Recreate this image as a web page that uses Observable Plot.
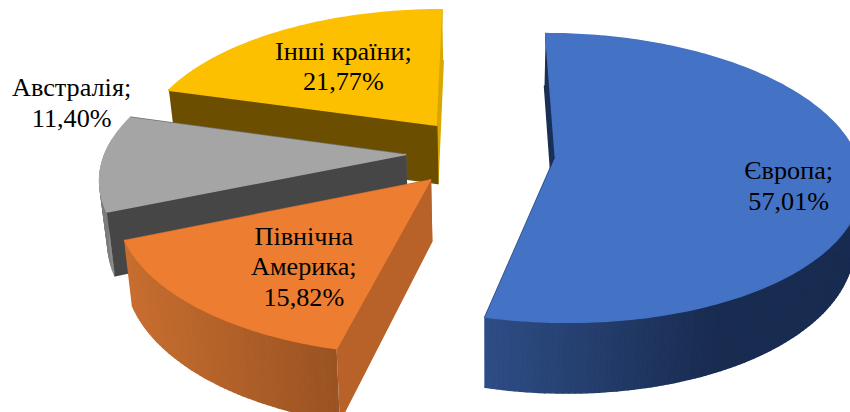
<!DOCTYPE html>
<html><head><meta charset="utf-8">
<style>html,body{margin:0;padding:0;background:#fff}</style>
<script src="https://cdn.jsdelivr.net/npm/d3@7"></script>
<script src="https://cdn.jsdelivr.net/npm/@observablehq/plot@0.6"></script>
</head><body><div id="chart"></div>
<script>
// Data (the shares add up to 106, the pie normalises them)
const categories = ["Європа", "Північна\nАмерика", "Австралія", "Інші країни"];
const shares = [57.01, 15.82, 11.40, 21.77];

// Colours per slice
const topColors = ["#4472c4", "#ed7d31", "#a5a5a5", "#fdc000"];
const wallFrom = ["#2e4d85", "#c86e30", "#7c7c7c", "#8c6b00"];
const wallTo = ["#182b50", "#9a5322", "#9a9a9a", "#8c6b00"];
const startFace = ["#1a2f55", "#b8622a", "#464646", "#6b4e00"];
const endFace = ["#2e4d85", "#c86e30", "#707070", "#d8a800"];

// Where each label sits, in slice polar terms: degrees clockwise from top, fraction of radius
const labelAngle = [104.5, 214.36, 288.5, 324];
const labelRadius = [0.77, 0.645, 1.255, 0.6];

// Camera used to project the tilted pie
const cam = {u0: 480, v0: 152, A: 300, B: 140, k: 0.147, explode: 0.25, H: 60, nadirX: 490, lean: 0.021, start: 0};

const rad = d => d * Math.PI / 180;
const project = (X, Y) => {
  const w = 1 - cam.k * Y;
  return {x: cam.u0 + cam.A * X / w, y: cam.v0 + cam.B * Y / w, w};
};
const lower = p => ({x: p.x + (cam.nadirX - p.x) * cam.lean, y: p.y + cam.H / p.w});

const arcs = d3.pie().sort(null)
  .startAngle(rad(cam.start)).endAngle(rad(cam.start) + 2 * Math.PI)(shares);

const polygons = [];
let id = 0;
const addPoly = (pts, fill) => { id++; for (const p of pts) polygons.push({id, x: p.x, y: p.y, fill}); };

const slices = arcs.map((a, i) => {
  const mid = (a.startAngle + a.endAngle) / 2;
  const ox = cam.explode * Math.sin(mid), oy = -cam.explode * Math.cos(mid);
  const at = (th, r = 1) => project(ox + r * Math.sin(th), oy - r * Math.cos(th));
  return {a, i, at};
});

// back to front
for (const i of [3, 2, 1, 0]) {
  const {a, at} = slices[i];
  const n = Math.ceil((a.endAngle - a.startAngle) / rad(1));
  const th = d3.range(n + 1).map(j => a.startAngle + (a.endAngle - a.startAngle) * j / n);
  const apex = at(0, 0), s = at(a.startAngle), e = at(a.endAngle);
  addPoly([e, apex, lower(apex), lower(e)], endFace[i]);
  const shade = d3.interpolateRgb(wallFrom[i], wallTo[i]);
  const rim = th.map(t => at(t));
  const front = d3.range(n).filter(j => Math.cos(th[j]) < 0.1);
  if (front.length) {
    const xs = d3.extent(front, j => rim[j].x);
    for (const j of front) {
      const p = rim[j], q = rim[j + 1];
      const f = (p.x - xs[0]) / (xs[1] - xs[0]);   // 0 at the left of the wall, 1 at its right
      const t = i === 0 ? Math.min(1, f * 1.6) : f;
      addPoly([p, q, lower(q), lower(p)], shade(t));
    }
  }
  addPoly([s, apex, lower(apex), lower(s)], startFace[i]);
  addPoly([apex, ...rim], topColors[i]);
}

const labels = slices.map(({at, i}) => {
  const p = at(rad(labelAngle[i]), labelRadius[i]);
  return {x: p.x, y: p.y, text: `${categories[i]};\n${shares[i].toFixed(2).replace(".", ",")}%`};
});

const chart = Plot.plot({
  width: 850, height: 412,
  marginTop: 0, marginRight: 0, marginBottom: 0, marginLeft: 0,
  x: {domain: [0, 850], range: [0, 850], axis: null},
  y: {domain: [0, 412], range: [0, 412], axis: null},
  color: {type: "identity"},
  marks: [
    Plot.line(polygons, {x: "x", y: "y", z: "id", fill: "fill", stroke: "fill", strokeWidth: 1.5, curve: "linear"}),
    Plot.text(labels, {x: "x", y: "y", text: "text", fill: "#000", fontSize: 26.2, lineHeight: 1.17,
      fontFamily: "Liberation Serif", textAnchor: "middle"})
  ]
});
document.getElementById("chart").appendChild(chart);
</script></body></html>
